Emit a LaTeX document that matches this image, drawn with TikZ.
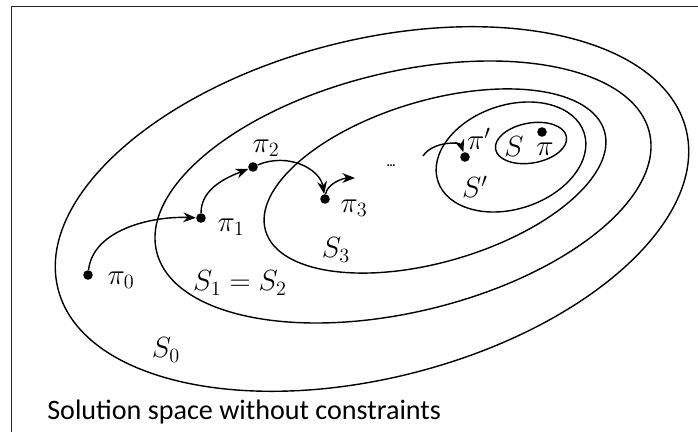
\documentclass[tikz,border=0pt]{standalone}
\usepackage{fontspec}
\setmainfont{Carlito}
\usetikzlibrary{arrows.meta}

\begin{document}
\begin{tikzpicture}[x=0.025cm, y=-0.025cm,
    region/.style={draw, line width=1pt},
    dot/.style={circle, fill, inner sep=0pt, minimum size=0.24cm},
    lbl/.style={font=\fontsize{20}{22}\selectfont, inner sep=0pt},
    arrow/.style={-{Stealth[length=9pt,width=7pt]}, line width=1pt},
]
\useasboundingbox (0,0) rectangle (698,432);

% Frame
\draw[line width=1.2pt, black!85] (11.5,432) |- (698,6.5);

% Nested solution spaces
\draw[region, rotate around={14.3:(372,209)}] (372,209) ellipse [x radius=324, y radius=169];
\draw[region, rotate around={13.6:(403,192)}] (403,192) ellipse [x radius=253.5, y radius=120];
\draw[region, rotate around={16.4:(435,181)}] (435,181) ellipse [x radius=176.6, y radius=80.7];
\draw[region, rotate around={18.4:(511,157)}] (511,157) ellipse [x radius=77, y radius=52];
\draw[region, rotate around={10:(531,143)}] (531,143) ellipse [x radius=36, y radius=20];

% Solutions
\node[dot] (p0) at (88,275) {};
\node[dot] (p1) at (201,218) {};
\node[dot] (p2) at (253,167) {};
\node[dot] (p3) at (325,199) {};
\node[dot] (pp) at (465,157) {};
\node[dot] (pi) at (542,132) {};
\coordinate (nx) at (355,178);
\coordinate (px) at (423,156);

% Labels
\node[lbl] (l0) at (121,280) {$\pi_0$};
\node[lbl] (l1) at (231,227) {$\pi_1$};
\node[lbl] (l2) at (266,148) {$\pi_2$};
\node[lbl] (l3) at (354,208) {$\pi_3$};
\node[lbl] (lp) at (479,139) {$\pi'$};
\node[lbl] (lpi) at (545,149) {$\pi$};
\node[lbl] (ls) at (514,147) {$S$};
\node[lbl] (lsp) at (475,187) {$S'$};
\node[lbl] (ls3) at (336,250) {$S_3$};
\node[lbl] (ls12) at (240,283) {$S_1 = S_2$};
\node[lbl] (ls0) at (166,350) {$S_0$};
\node[font=\small\bfseries] (dots) at (391,166) {\ldots};
\node[anchor=base west, inner sep=0pt, font=\fontsize{20}{24}\selectfont] (caption) at (47,419) {Solution space without constraints};

% Search steps
\draw[arrow] (p0) .. controls +(5,-45) and +(-50,-2) .. (p1);
\draw[arrow] (p1) .. controls +(0,-30) and +(-25,10) .. (p2);
\draw[arrow] (p2) .. controls +(35,-15) and +(-5,-30) .. (p3);
\draw[arrow] (p3) .. controls +(2,-15) and +(-12,0) .. (nx);
\draw[arrow] (px) .. controls +(10,-15) and +(-5,-15) .. (pp);

\end{tikzpicture}
\end{document}
